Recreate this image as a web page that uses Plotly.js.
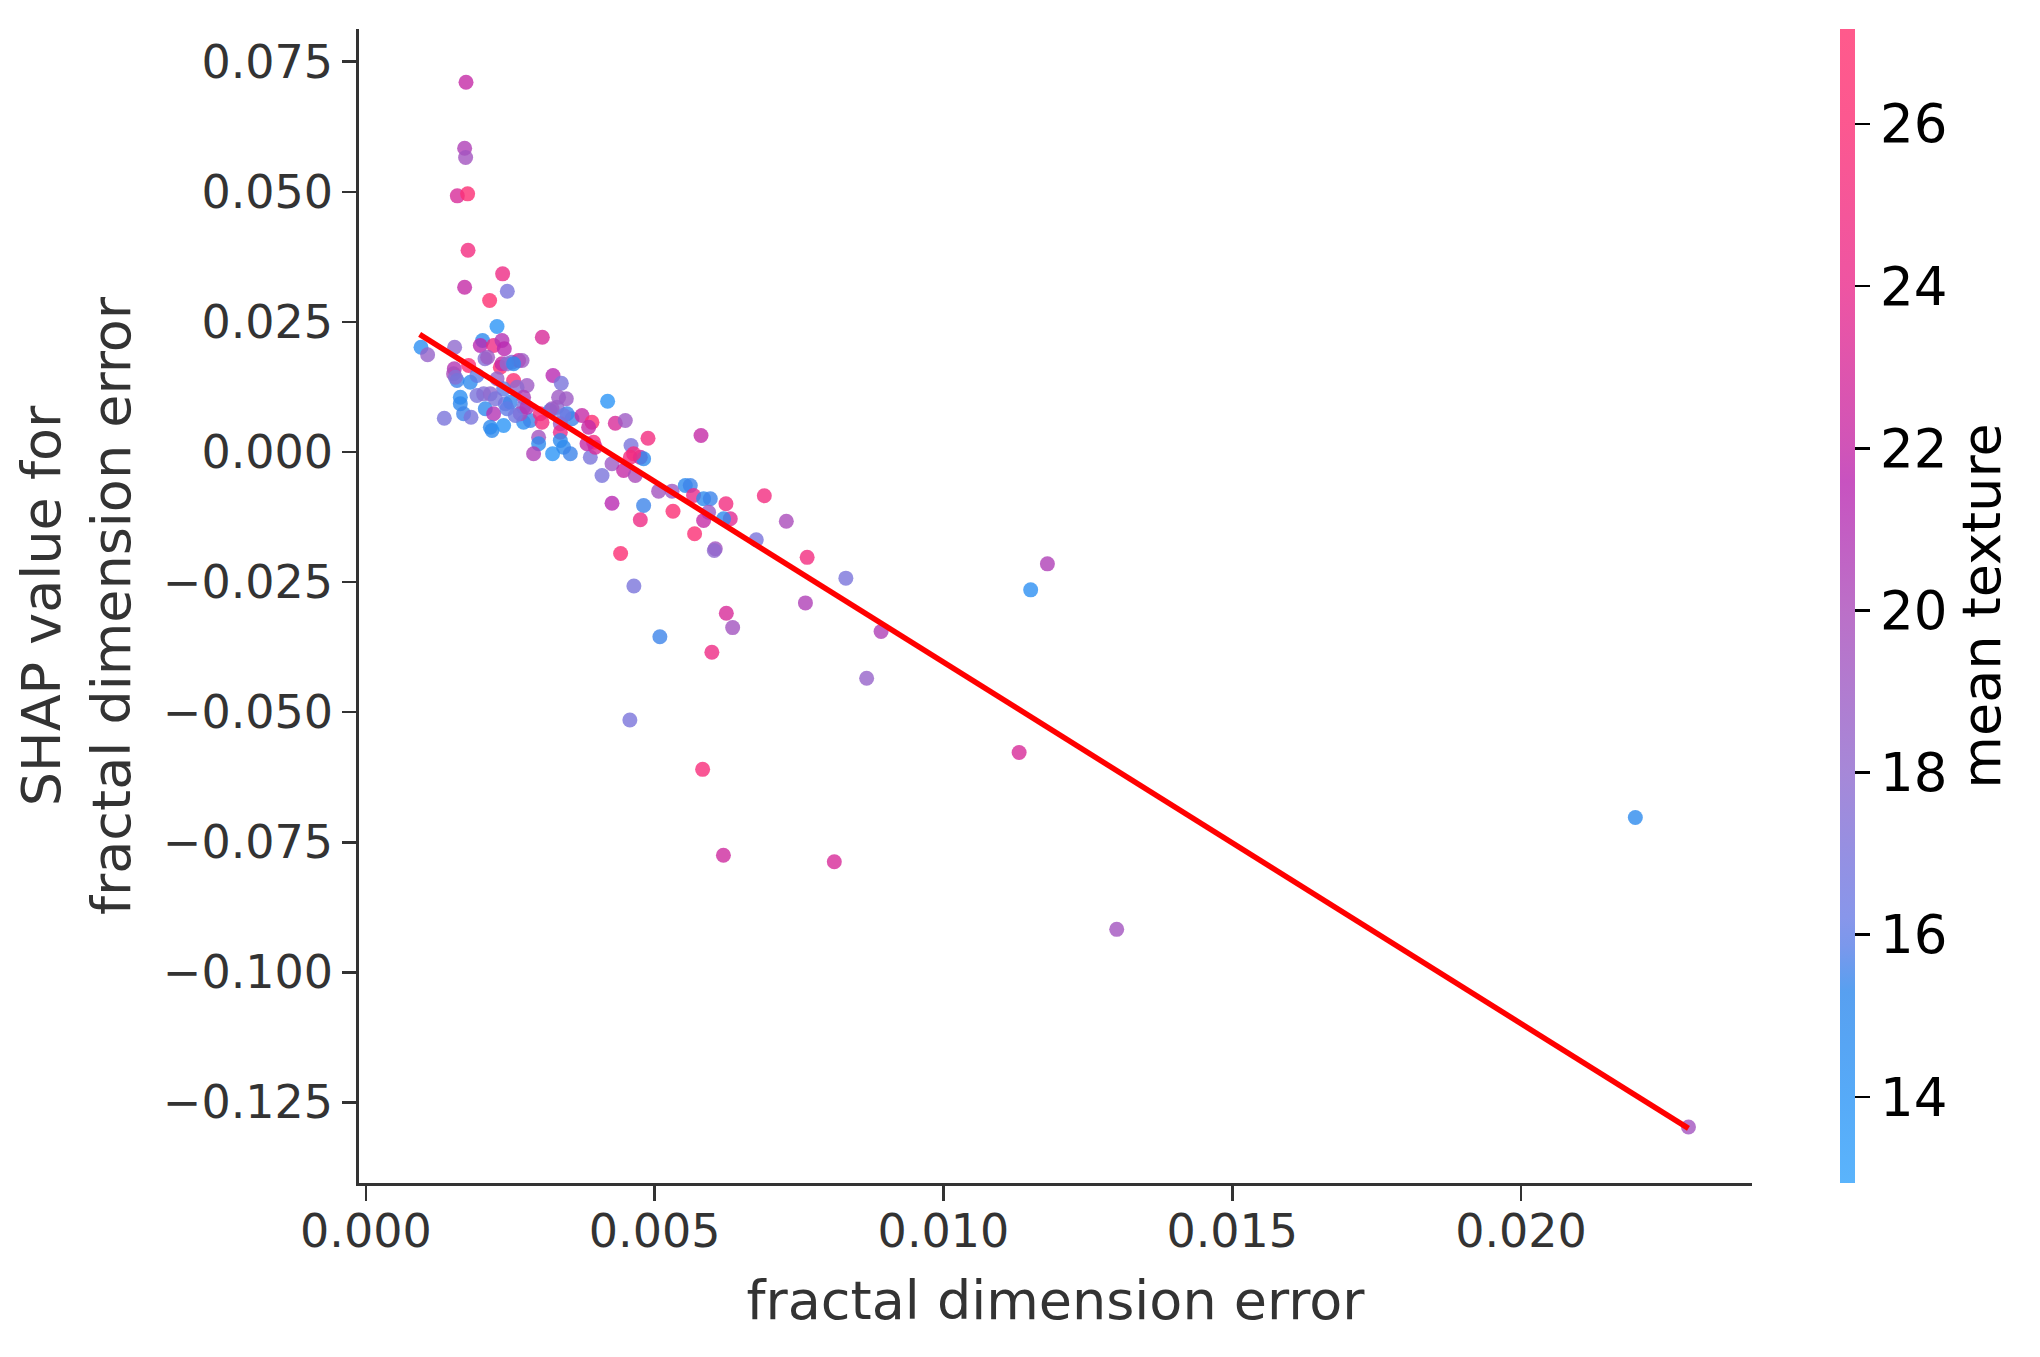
<!DOCTYPE html>
<html>
<head>
<meta charset="utf-8">
<script src="https://cdn.plot.ly/plotly-3.0.1.min.js"></script>
<style>html,body{margin:0;padding:0;background:#fff;}#chart{width:2040px;height:1357px;}</style>
</head>
<body>
<div id="chart"></div>
<script>
// fractal dimension error (feature value)
const fractalDimError = [
0.001733,0.001709,0.001726,0.001582,0.001761,0.001768,0.002367,0.001709,0.002448,0.002142,
0.002270,0.003054,0.000954,0.001068,0.001536,0.002020,0.001981,0.002211,0.002356,0.002396,
0.002062,0.001778,0.001530,0.001518,0.001577,0.001807,0.001923,0.002327,0.002356,0.002529,
0.002644,0.002703,0.002270,0.002557,0.002789,0.002616,0.002384,0.002730,0.001634,0.001634,
0.001923,0.002038,0.002154,0.002413,0.002500,0.002730,0.002067,0.001691,0.001820,0.001357,
0.002211,0.002154,0.002183,0.002384,0.002730,0.002846,0.003019,0.003049,0.003193,0.003309,
0.003239,0.003383,0.003336,0.003470,0.003482,0.003568,0.003366,0.003366,0.003741,0.003914,
0.003856,0.004318,0.004491,0.004185,0.002990,0.002990,0.002903,0.003232,0.003423,0.003539,
0.003885,0.003972,0.003942,0.004088,0.004261,0.004590,0.004884,0.004578,0.004751,0.004808,
0.004462,0.004664,0.005802,0.004261,0.004808,0.004751,0.005068,0.005300,0.005317,0.005530,
0.005616,0.005673,0.005847,0.005963,0.005933,0.005847,0.005691,0.006234,0.006309,0.006193,
0.006898,0.007279,0.006759,0.006049,0.006032,0.001549,0.002107,0.002443,0.002557,0.002240,
0.002443,0.002673,0.002587,0.003222,0.003423,0.003366,0.003828,0.004635,0.002789,0.004640,
0.005090,0.004570,0.006240,0.006350,0.005990,0.007610,0.008920,0.008670,0.005830,0.006190,
0.008110,0.011310,0.011510,0.011800,0.013000,0.021980,0.022900,0.007640,0.008310,0.004410
];
// SHAP value for fractal dimension error
const shapValues = [
0.07106,0.05838,0.05659,0.04923,0.04962,0.03878,0.03424,0.03167,0.03090,0.02911,
0.02412,0.02206,0.02014,0.01868,0.02014,0.02143,0.02047,0.02047,0.02143,0.01983,
0.01791,0.01662,0.01599,0.01503,0.01374,0.01341,0.01470,0.01630,0.01695,0.01726,
0.01758,0.01758,0.01407,0.01374,0.01278,0.01245,0.01214,0.01053,0.01053,0.00926,
0.01086,0.01118,0.01118,0.00926,0.00957,0.00861,0.00830,0.00734,0.00669,0.00650,
0.00734,0.00477,0.00413,0.00509,0.00573,0.00605,0.00734,0.00573,0.00797,0.00861,
0.01470,0.01322,0.01053,0.01022,0.00734,0.00638,0.00542,0.00380,0.00701,0.00573,
0.00477,0.00553,0.00605,0.00976,0.00284,0.00158,-0.00035,-0.00035,0.00092,-0.00035,
-0.00100,0.00092,0.00188,-0.00452,-0.00227,0.00125,0.00265,-0.00100,-0.00100,-0.00131,
-0.00356,-0.00452,0.00317,-0.00984,-0.01028,-0.01303,-0.00753,-0.00753,-0.01138,-0.00644,
-0.00644,-0.00836,-0.00899,-0.00899,-0.01157,-0.01316,-0.01572,-0.00995,-0.01284,-0.01284,
-0.00842,-0.01330,-0.01687,-0.01860,-0.01893,0.01437,0.01822,0.01695,0.01695,0.01022,
0.00830,0.00734,0.00701,0.00830,0.00701,0.00221,0.00158,-0.00035,0.00861,-0.02575,
-0.03550,-0.05150,-0.03100,-0.03375,-0.03850,-0.02900,-0.03450,-0.04350,-0.06100,-0.07750,
-0.07875,-0.05775,-0.02650,-0.02150,-0.09175,-0.07025,-0.12975,-0.02025,-0.02425,-0.01950
];
// mean texture (colour)
const meanTexture = [
22,20.5,19.5,23,26,25,24.5,22,17,26.5,
14,23,14.5,18.5,18,15,21.5,24.5,21,21.5,
17.5,26,21,20,15.5,15,16,26,22,17.5,
22.5,19,18.5,26,19,18,16,20.5,14.5,15.3,
17,17.5,18,16.5,15.5,17,15,15.5,17,17,
21,15,15,14,14.5,15.5,25,25,14.5,18,
21.5,17,19,19,15.5,15.5,19,24,22,26,
22,23,19,14,19.5,15,20.5,14,15,15.5,
17,23,25,17,19,17,25,25,22,15,
22,20,22,21.5,15.5,24.5,19.5,19,26,15,
15.5,24,15,15.5,19,22,26,25,23.5,15,
25,20,17,19.5,18,17.5,19,18,15,17,
16,20,16.5,19,16.5,15,22,25,21,17,
15.5,17,23,19.5,24.5,20.5,20.5,18.5,25.5,22.5,
23,23,14.5,20.5,19.5,15,19.5,25,17,26
];
// fitted trend line
const trendX = [0.00093, 0.02290];
const trendY = [0.02260, -0.13000];

const colorTicks = [14, 16, 18, 20, 22, 24, 26];
const xTicks = [0, 0.005, 0.010, 0.015, 0.020];
const yTicks = [0.075, 0.050, 0.025, 0.000, -0.025, -0.050, -0.075, -0.100, -0.125];

const A = 0.8;
const colorscale = [
  [0.000, `rgba(49,161,251,${A})`],
  [0.075, `rgba(44,149,246,${A})`],
  [0.166, `rgba(46,136,236,${A})`],
  [0.205, `rgba(89,126,231,${A})`],
  [0.230, `rgba(106,124,229,${A})`],
  [0.356, `rgba(144,106,206,${A})`],
  [0.496, `rgba(170,76,186,${A})`],
  [0.608, `rgba(186,39,176,${A})`],
  [0.637, `rgba(196,42,166,${A})`],
  [0.777, `rgba(234,42,139,${A})`],
  [0.918, `rgba(251,46,116,${A})`],
  [1.000, `rgba(255,49,111,${A})`]
];

const font = 'DejaVu Sans, Liberation Sans, sans-serif';

const scatter = {
  type: 'scatter', mode: 'markers',
  x: fractalDimError, y: shapValues,
  marker: {
    size: 15, color: meanTexture, colorscale: colorscale, cmin: 12.94, cmax: 27.17,
    line: {width: 0},
    colorbar: {
      x: 1.0632, xanchor: 'left', y: 0.5, yanchor: 'middle', len: 1, lenmode: 'fraction',
      thickness: 15, thicknessmode: 'pixels', outlinewidth: 0,
      tickvals: colorTicks, ticks: 'outside', ticklen: 15, tickwidth: 2.7, tickcolor: '#000',
      tickfont: {family: font, size: 53, color: '#000'},
      title: {text: 'mean texture', side: 'right', font: {family: font, size: 54, color: '#000'}},
      xpad: 0, ypad: 0
    }
  },
  hoverinfo: 'x+y', showlegend: false
};

const trend = {
  type: 'scatter', mode: 'lines', x: trendX, y: trendY,
  line: {color: '#ff0000', width: 5.5}, showlegend: false, hoverinfo: 'skip'
};

const layout = {
  width: 2040, height: 1357,
  margin: {l: 359, r: 288, t: 29, b: 174, pad: 0},
  paper_bgcolor: '#ffffff', plot_bgcolor: '#ffffff',
  font: {family: font, color: '#333333'},
  xaxis: {
    range: [-0.00012, 0.0240], tickvals: xTicks, tickformat: '.3f',
    showgrid: false, zeroline: false, showline: true, linecolor: '#333333', linewidth: 2.7,
    ticks: 'outside', ticklen: 15, tickwidth: 2.7, tickcolor: '#333333',
    ticklabelstandoff: -9,
    tickfont: {family: font, size: 46, color: '#333333'},
    title: {text: 'fractal dimension error', font: {family: font, size: 54, color: '#333333'}, standoff: 25},
    automargin: false
  },
  yaxis: {
    range: [-0.1405, 0.0813], tickvals: yTicks, tickformat: '.3f',
    showgrid: false, zeroline: false, showline: true, linecolor: '#333333', linewidth: 2.7,
    ticks: 'outside', ticklen: 14, tickwidth: 2.7, tickcolor: '#333333',
    tickfont: {family: font, size: 46, color: '#333333'},
    title: {text: 'SHAP value for<br>fractal dimension error', font: {family: font, size: 54, color: '#333333'}, standoff: 15},
    automargin: false
  }
};

Plotly.newPlot('chart', [scatter, trend], layout, {staticPlot: true, displayModeBar: false});
</script>
</body>
</html>
